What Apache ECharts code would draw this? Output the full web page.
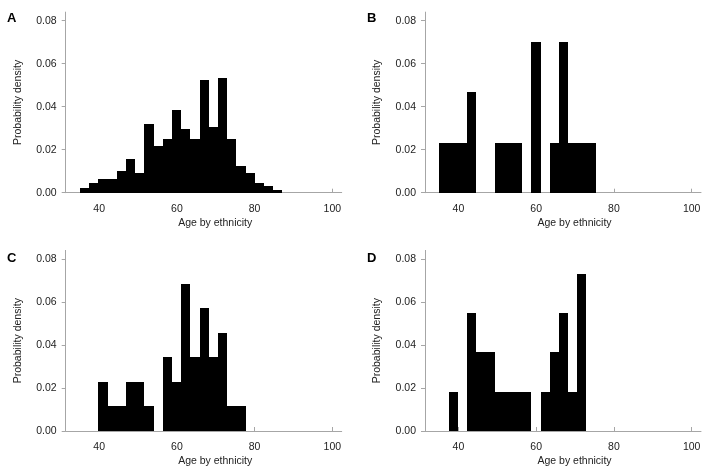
<!DOCTYPE html>
<html>
<head>
<meta charset="utf-8">
<script src="https://cdn.jsdelivr.net/npm/echarts@6/dist/echarts.min.js"></script>
<style>html,body{margin:0;padding:0;background:#fff;}#c{width:709px;height:474px;}</style>
</head>
<body>
<div id="c"></div>
<script>
// Histogram bin edges (age)
const binEdges = [35.1, 37.47, 39.83, 42.2, 44.56, 46.93, 49.29, 51.66, 54.02, 56.39, 58.75, 61.12, 63.48, 65.85, 68.21, 70.58, 72.94, 75.31, 77.67, 80.04, 82.4, 84.77, 87.13];
// Probability density per bin, one array per panel
const densityA = [0.0020,0.0044,0.0066,0.0066,0.0100,0.0158,0.0090,0.0318,0.0217,0.0249,0.0385,0.0295,0.0249,0.0522,0.0307,0.0535,0.0249,0.0125,0.0090,0.0044,0.0033,0.0011];
const densityB = [0.0233,0.0233,0.0233,0.0467,0,0,0.0233,0.0233,0.0233,0,0.0700,0,0.0233,0.0700,0.0233,0.0233,0.0233,0,0,0,0,0];
const densityC = [0,0,0.0228,0.0114,0.0114,0.0228,0.0228,0.0114,0,0.0342,0.0228,0.0684,0.0342,0.0570,0.0342,0.0456,0.0114,0.0114,0,0,0,0];
const densityD = [0,0.0183,0,0.0549,0.0366,0.0366,0.0183,0.0183,0.0183,0.0183,0,0.0183,0.0366,0.0549,0.0183,0.0732,0,0,0,0,0,0];
const panelLetters = ['A','B','C','D'];
const xTicks = [40, 60, 80, 100];
const yTicks = [0, 0.02, 0.04, 0.06, 0.08];
const xName = 'Age by ethnicity';
const yName = 'Probability density';

const densities = [densityA, densityB, densityC, densityD];
const grids = [
  {left: 65.7, top: 12.1, right: 367.3, bottom: 281.3},
  {left: 425, top: 12.1, right: 8, bottom: 281.3},
  {left: 65.7, top: 250.4, right: 367.3, bottom: 43},
  {left: 425, top: 250.4, right: 8, bottom: 43}
];
const letterPos = [[12, 18], [372, 18], [12, 258], [372, 258]];
const FONT = 'Liberation Sans';
const axisColor = '#a6a6a6';

const xAxes = [], yAxes = [], series = [], graphics = [];
grids.forEach((g, i) => {
  xAxes.push({
    type: 'value', gridIndex: i, min: 31.4, max: 102.4,
    splitLine: {show: false},
    axisLine: {show: true, lineStyle: {color: axisColor, width: 1}},
    axisTick: {show: true, inside: true, length: 4, customValues: xTicks, lineStyle: {color: axisColor}},
    axisLabel: {customValues: xTicks, margin: 11, color: '#222', fontFamily: FONT, fontSize: 10.5},
    name: xName, nameLocation: 'middle', nameGap: 25,
    nameTextStyle: {color: '#222', fontFamily: FONT, fontSize: 10.5, padding: [0, 0, 0, 23]}
  });
  yAxes.push({
    type: 'value', gridIndex: i, min: 0, max: 0.084,
    splitLine: {show: false},
    axisLine: {show: true, lineStyle: {color: axisColor, width: 1}},
    axisTick: {show: true, inside: false, length: 4, customValues: yTicks, lineStyle: {color: axisColor}},
    axisLabel: {customValues: yTicks, margin: 9, color: '#222', fontFamily: FONT, fontSize: 10.5,
      formatter: v => v.toFixed(2)},
    name: yName, nameLocation: 'middle', nameGap: 42,
    nameTextStyle: {color: '#222', fontFamily: FONT, fontSize: 10.5}
  });
  const data = [];
  densities[i].forEach((d, k) => {
    if (d > 0) data.push([binEdges[k], binEdges[k + 1], d]);
  });
  series.push({
    type: 'custom', xAxisIndex: i, yAxisIndex: i, data: data,
    encode: {x: [0, 1], y: 2},
    renderItem: function (params, api) {
      const p0 = api.coord([api.value(0), 0]);
      const p1 = api.coord([api.value(1), api.value(2)]);
      const x0 = Math.round(p0[0]), x1 = Math.round(p1[0]);
      const yb = Math.round(p0[1]), yt = Math.round(p1[1]);
      return {
        type: 'rect',
        shape: {x: x0, y: yt, width: x1 - x0, height: yb - yt},
        style: {fill: '#000'}
      };
    }
  });
  graphics.push({
    type: 'text', left: letterPos[i][0] - 5, top: letterPos[i][1] - 6,
    style: {text: panelLetters[i], fill: '#000', font: 'bold 13px ' + FONT}
  });
});

const chart = echarts.init(document.getElementById('c'));
chart.setOption({
  animation: false,
  backgroundColor: '#fff',
  grid: grids,
  xAxis: xAxes,
  yAxis: yAxes,
  series: series,
  graphic: graphics
});
</script>
</body>
</html>
